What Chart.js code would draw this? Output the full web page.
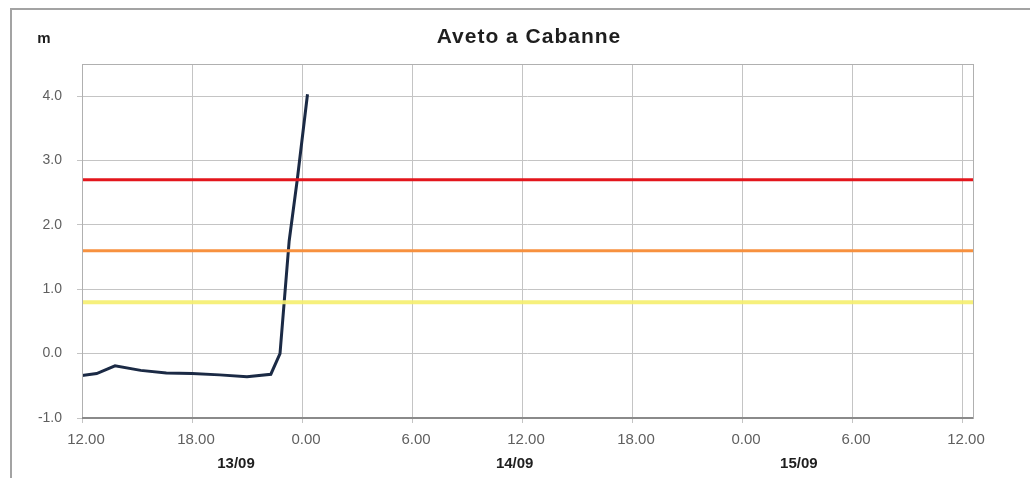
<!DOCTYPE html>
<html>
<head>
<meta charset="utf-8">
<script src="https://cdn.jsdelivr.net/npm/chart.js@4.4.0/dist/chart.umd.min.js"></script>
<style>
  html, body { margin: 0; padding: 0; background: #fff; }
  #wrap { width: 1030px; height: 478px; position: relative; }
</style>
</head>
<body>
<div id="wrap"><canvas id="levelChart" width="1030" height="478"></canvas></div>
<script>
// Hydrometric level, hours from 13/09 12.00
const hours = [0, 0.8, 1.8, 3.2, 4.6, 6.0, 7.5, 9.0, 10.3, 10.8, 11.3, 11.75, 12.3];
const levels = [-0.34, -0.31, -0.19, -0.26, -0.30, -0.31, -0.33, -0.36, -0.32, 0.0, 1.75, 2.72, 4.03];

// Threshold levels
const thresholdNames = ['rosso', 'arancione', 'giallo'];
const thresholdValues = [2.7, 1.6, 0.8];
const thresholdColors = ['#e3161c', '#f7913f', 'rgba(245,238,110,0.9)'];
const thresholdWidths = [3, 3, 4];

const xTickLabels = ['12.00', '18.00', '0.00', '6.00', '12.00', '18.00', '0.00', '6.00', '12.00'];
const dateLabels = ['13/09', '14/09', '15/09'];
const dateHours = [8.4, 23.6, 39.1];

const X_MAX = 48.6;
const gridColor = '#c4c4c4';
const tickColor = '#5f5f5f';
const fontFamily = '"Liberation Sans", Arial, sans-serif';

const datasets = thresholdValues.map((v, i) => ({
    label: thresholdNames[i],
    data: [{ x: 0, y: v }, { x: X_MAX, y: v }],
    borderColor: thresholdColors[i],
    borderWidth: thresholdWidths[i],
    pointRadius: 0
}));
datasets.push({
    label: 'Aveto a Cabanne',
    data: hours.map((h, i) => ({ x: h, y: levels[i] })),
    borderColor: '#1b2a45',
    borderWidth: 3,
    pointRadius: 0,
    tension: 0
});

// title, unit, dates and frame
const decorations = {
    id: 'decorations',
    afterDraw(chart) {
        const ctx = chart.ctx;
        const a = chart.chartArea;
        const xs = chart.scales.x;
        ctx.save();
        // outer frame
        ctx.strokeStyle = '#a3a3a3';
        ctx.lineWidth = 2;
        ctx.beginPath();
        ctx.moveTo(11, 478);
        ctx.lineTo(11, 9);
        ctx.lineTo(1030, 9);
        ctx.stroke();
        // plot border
        ctx.strokeStyle = '#b0b0b0';
        ctx.lineWidth = 1;
        ctx.strokeRect(a.left + 0.5, a.top + 0.5, a.right - a.left, a.bottom - a.top);
        ctx.strokeStyle = '#8a8a8a';
        ctx.lineWidth = 2;
        ctx.beginPath();
        ctx.moveTo(a.left, a.bottom);
        ctx.lineTo(a.right, a.bottom);
        ctx.stroke();

        ctx.fillStyle = '#1e1e1e';
        ctx.textAlign = 'center';
        ctx.textBaseline = 'middle';
        ctx.font = 'bold 21px ' + fontFamily;
        ctx.letterSpacing = '1px';
        ctx.fillText('Aveto a Cabanne', 529, 37);
        ctx.letterSpacing = '0px';
        ctx.font = 'bold 15px ' + fontFamily;
        ctx.fillText('m', 44, 39);
        ctx.font = 'bold 15px ' + fontFamily;
        dateLabels.forEach((d, i) => {
            ctx.fillText(d, xs.getPixelForValue(dateHours[i]), 464);
        });
        ctx.restore();
    }
};

new Chart(document.getElementById('levelChart'), {
    type: 'line',
    data: { datasets: datasets },
    options: {
        responsive: false,
        animation: false,
        plugins: { legend: { display: false }, title: { display: false }, tooltip: { enabled: false } },
        layout: { padding: { left: 20, top: 64, right: 57, bottom: 0 } },
        scales: {
            x: {
                type: 'linear',
                min: 0,
                max: X_MAX,
                afterBuildTicks: s => { s.ticks = xTickLabels.map((t, i) => ({ value: i * 6 })); },
                afterFit: s => { s.height = 60; s.paddingLeft = 0; s.paddingRight = 0; },
                grid: { color: gridColor, tickLength: 5, lineWidth: 1 },
                border: { display: false },
                ticks: {
                    color: tickColor,
                    padding: 8,
                    labelOffset: 4,
                    font: { family: fontFamily, size: 15 },
                    maxRotation: 0,
                    autoSkip: false,
                    callback: v => xTickLabels[Math.round(v / 6)]
                }
            },
            y: {
                type: 'linear',
                min: -1,
                max: 4.5,
                afterBuildTicks: s => { s.ticks = [-1, 0, 1, 2, 3, 4].map(v => ({ value: v })); },
                afterFit: s => { s.width = 62; s.paddingTop = 0; s.paddingBottom = 0; },
                grid: { color: gridColor, tickLength: 5, lineWidth: 1 },
                border: { display: false },
                ticks: {
                    color: tickColor,
                    padding: 15,
                    font: { family: fontFamily, size: 14 },
                    callback: v => v.toFixed(1)
                }
            }
        }
    },
    plugins: [decorations]
});
</script>
</body>
</html>
